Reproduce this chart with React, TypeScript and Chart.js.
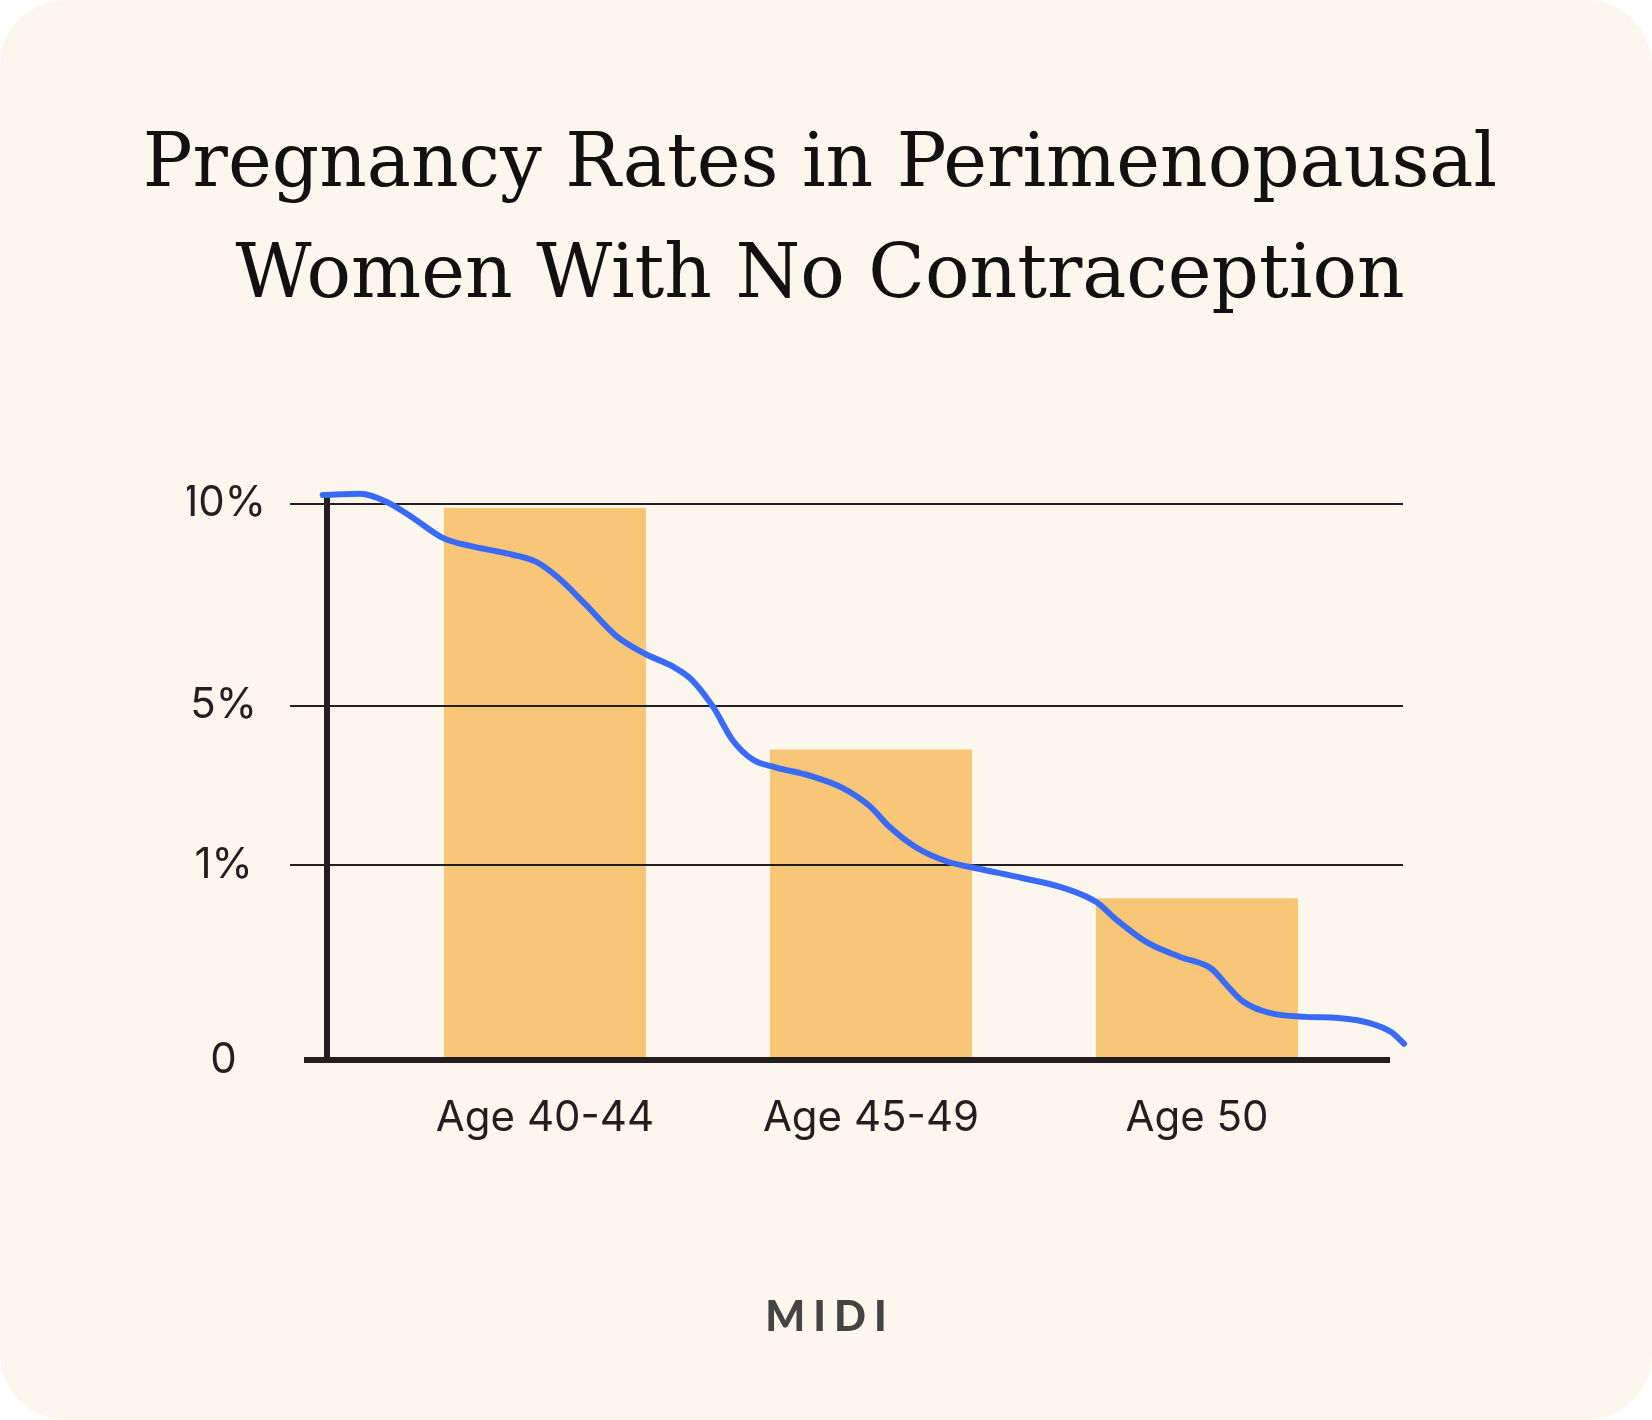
import React, { useEffect, useRef } from 'react';
import { Chart, LinearScale, registerables } from 'chart.js';

// ---- data ----
const categories = ['Age 40-44', 'Age 45-49', 'Age 50'];
const pregnancyRates = [9.9, 3.9, 0.83];

// y axis: unevenly spaced ticks (schematic axis)
const yTickValues = [0, 1, 5, 10];
const yTickLabels = ['0', '1%', '5%', '10%'];
const yTickPositions = [0, 0.3482, 0.6327, 0.9934]; // share of axis height at each tick

// decorative trend curve (0-100 x 0-100 frame of the plot area)
const curveX = [-0.4, 3.1, 5.6, 8.0, 10.8, 13.3, 16.6, 19.5, 21.5, 24.0, 26.9, 29.6, 32.2, 33.9, 35.9, 37.7, 39.6, 41.6, 45.0, 47.9, 50.4, 52.3, 54.8, 57.7, 60.7, 64.6, 68.5, 71.5, 73.4, 76.3, 79.3, 82.2, 83.6, 85.1, 87.6, 91.0, 94.0, 96.9, 98.9, 100.1];
const curveY = [100.9, 101.1, 99.6, 96.8, 93.2, 91.8, 90.5, 88.9, 86.1, 81.4, 75.7, 72.5, 70.2, 67.9, 63.0, 57.1, 53.6, 52.3, 50.7, 48.6, 45.4, 41.6, 37.9, 35.4, 34.1, 32.5, 30.7, 28.2, 25.0, 20.9, 18.4, 16.3, 13.4, 10.5, 8.4, 7.7, 7.5, 6.6, 5.0, 2.9];

const INK = '#231F20';
const BAR = '#F7C676';
const BLUE = '#3A6BF8';

function valueToDecimal(v: number): number {
  const n = yTickValues.length;
  let i = 1;
  while (i < n - 1 && v > yTickValues[i]) i++;
  const v0 = yTickValues[i - 1], v1 = yTickValues[i];
  const p0 = yTickPositions[i - 1], p1 = yTickPositions[i];
  return p0 + ((v - v0) / (v1 - v0)) * (p1 - p0);
}
function decimalToValue(d: number): number {
  const n = yTickPositions.length;
  let i = 1;
  while (i < n - 1 && d > yTickPositions[i]) i++;
  const v0 = yTickValues[i - 1], v1 = yTickValues[i];
  const p0 = yTickPositions[i - 1], p1 = yTickPositions[i];
  return v0 + ((d - p0) / (p1 - p0)) * (v1 - v0);
}

class BrokenLinearScale extends LinearScale {
  static id = 'brokenLinear';
  static defaults = LinearScale.defaults;
  getPixelForValue(value: any) {
    if (value === null || value === undefined || isNaN(value)) return NaN;
    return this.getPixelForDecimal(valueToDecimal(+value));
  }
  getValueForPixel(pixel: number) {
    return decimalToValue(this.getDecimalForPixel(pixel));
  }
}

Chart.register(...registerables, BrokenLinearScale as any);

const gridOverBars = {
  id: 'gridOverBars',
  afterDatasetDraw(chart: any, args: any) {
    if (args.meta.type === 'bar') {
      chart.scales.y.drawGrid(chart.chartArea);
    }
  },
  afterDatasetsDraw(chart: any) {
    const { ctx, chartArea, scales } = chart;
    const y = scales.y.getPixelForValue(0);
    ctx.save();
    ctx.strokeStyle = INK;
    ctx.lineWidth = 6;
    ctx.beginPath();
    ctx.moveTo(chartArea.left - 23, y);
    ctx.lineTo(chartArea.right - 13, y);
    ctx.stroke();
    ctx.restore();
  },
};

export default function App() {
  const canvasRef = useRef<HTMLCanvasElement | null>(null);

  useEffect(() => {
    const canvas = canvasRef.current;
    if (!canvas) return;
    const tickFont = { family: 'Inter', size: 42 };
    const chart = new Chart(canvas, {
      type: 'bar',
      data: {
        datasets: [
          {
            type: 'line',
            label: 'trend',
            data: curveX.map((x, i) => ({ x, y: curveY[i] })),
            xAxisID: 'xc',
            yAxisID: 'yc',
            borderColor: BLUE,
            borderWidth: 6,
            pointRadius: 0,
            cubicInterpolationMode: 'monotone',
            borderCapStyle: 'round',
            borderJoinStyle: 'round',
            fill: false,
            clip: false,
            order: 0,
          } as any,
          {
            type: 'bar',
            label: 'Pregnancy rate',
            data: pregnancyRates.map((y, i) => ({ x: i, y })),
            xAxisID: 'x',
            yAxisID: 'y',
            backgroundColor: BAR,
            grouped: false,
            barPercentage: 1,
            categoryPercentage: 0.62,
            order: 1,
          } as any,
        ],
      },
      options: {
        animation: false,
        responsive: false,
        devicePixelRatio: 1,
        layout: { padding: { left: 187, right: 249, top: 500, bottom: 240 } },
        plugins: { legend: { display: false }, tooltip: { enabled: false }, title: { display: false } },
        scales: {
          x: {
            type: 'linear',
            position: 'bottom',
            offset: false,
            min: -0.6687,
            max: 2.632,
            afterBuildTicks: (s: any) => { s.ticks = categories.map((_, i) => ({ value: i })); },
            afterFit: (s: any) => { s.height = 120; },
            grid: { display: false, drawTicks: false, offset: false },
            border: { display: false },
            ticks: {
              callback: (v: any) => categories[v as number] ?? '',
              font: tickFont,
              color: INK,
              padding: 33,
              maxRotation: 0,
              autoSkip: false,
            },
          },
          y: {
            type: 'brokenLinear' as any,
            position: 'left',
            min: 0,
            max: decimalToValue(1),
            afterBuildTicks: (s: any) => { s.ticks = yTickValues.map((v) => ({ value: v })); },
            afterFit: (s: any) => { s.width = 140; },
            grid: {
              color: (c: any) => (c.tick && c.tick.value === 0 ? 'rgba(0,0,0,0)' : INK),
              lineWidth: 2,
              tickLength: 37,
              drawTicks: true,
            },
            border: { display: true, color: INK, width: 6 },
            ticks: {
              callback: (v: any) => yTickLabels[yTickValues.indexOf(v as number)] ?? '',
              crossAlign: 'center',
              padding: 24,
              font: tickFont,
              color: INK,
              autoSkip: false,
            },
          } as any,
          xc: { type: 'linear', display: false, offset: false, min: 0, max: 100, grid: { offset: false } },
          yc: { type: 'linear', display: false, min: 0, max: 100 },
        },
      },
      plugins: [gridOverBars],
    } as any);
    return () => chart.destroy();
  }, []);

  return (
    <div style={{ position: 'absolute', left: 0, top: 0, width: 1652, height: 1420, background: '#ffffff', overflow: 'hidden' }}>
      <div style={{ position: 'absolute', inset: 0, background: '#FBF7EC', borderRadius: 66 }} />
      <div
        style={{
          position: 'absolute',
          left: -6,
          top: 105,
          width: 1652,
          textAlign: 'center',
          fontFamily: '"DejaVu Serif", serif',
          fontSize: 74,
          lineHeight: '111px',
          color: '#111111',
        }}
      >
        Pregnancy Rates in Perimenopausal
        <br />
        Women With No Contraception
      </div>
      <canvas ref={canvasRef} width={1652} height={1420} style={{ position: 'absolute', left: 0, top: 0, width: 1652, height: 1420 }} />
      <div
        style={{
          position: 'absolute',
          left: 0,
          top: 1295,
          width: 1652,
          textAlign: 'center',
          fontFamily: 'Lato, sans-serif',
          fontWeight: 900,
          fontSize: 42,
          lineHeight: '41px',
          letterSpacing: 8,
          paddingLeft: 8,
          boxSizing: 'border-box',
          color: '#444444',
        }}
      >
        MIDI
      </div>
    </div>
  );
}
